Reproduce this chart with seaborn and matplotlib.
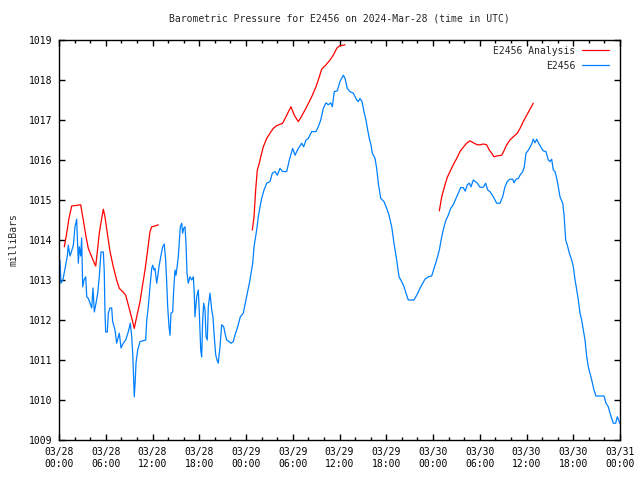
import pandas as pd
import matplotlib
matplotlib.use('Agg')
import matplotlib.pyplot as plt
import matplotlib.dates as mdates
import seaborn as sns

# values: hours after 2024-03-28 00:00 UTC, pressure in mb
obs_hours = [0.13, 0.25, 0.5, 1.07, 1.19, 1.41, 1.54, 1.84, 2.05, 2.27, 2.48, 2.61, 2.78, 2.91,
             3.04, 3.21, 3.43, 3.56, 3.76, 3.98, 4.2, 4.36, 4.53, 4.75, 4.97, 5.17, 5.39, 5.69,
             5.81, 5.9, 5.99, 6.2, 6.33, 6.55, 6.76, 6.89, 7.19, 7.4, 7.61, 7.74, 7.96, 8.25,
             8.56, 8.89, 9.15, 9.33, 9.46, 9.59, 9.66, 9.79, 9.88, 10.1, 10.4, 11.13, 11.26,
             11.46, 11.68, 11.9, 12.03, 12.19, 12.32, 12.54, 12.67, 12.83, 13.09, 13.31, 13.51,
             13.69, 13.82, 13.95, 14.12, 14.25, 14.37, 14.59, 14.72, 14.89, 15.02, 15.14, 15.31,
             15.44, 15.57, 15.75, 15.87, 16.0, 16.17, 16.3, 16.43, 16.59, 16.81, 17.03, 17.24,
             17.36, 17.45, 17.67, 17.88, 18.01, 18.19, 18.31, 18.44, 18.57, 18.74, 18.87, 19.03,
             19.16, 19.38, 19.6, 19.76, 19.93, 20.11, 20.28, 20.44, 20.66, 20.88, 21.14, 21.3,
             21.52, 21.82, 22.07, 22.37, 22.59, 22.93, 23.27, 23.65, 24.08, 24.51, 24.86, 25.03,
             25.37, 25.58, 25.8, 26.01, 26.31, 26.66, 27.08, 27.38, 27.72, 28.02, 28.36, 28.71,
             29.22, 29.56, 29.99, 30.29, 30.71, 31.15, 31.4, 31.7, 32.0, 32.43, 32.98, 33.28,
             33.59, 33.92, 34.27, 34.56, 34.87, 35.08, 35.33, 35.72, 36.06, 36.49, 36.71, 37.0,
             37.35, 37.77, 38.21, 38.41, 38.63, 38.89, 39.14, 39.4, 39.62, 39.82, 40.04, 40.21,
             40.56, 40.77, 40.98, 41.29, 41.71, 42.06, 42.35, 42.7, 42.99, 43.34, 43.64, 43.98,
             44.28, 44.62, 44.83, 45.56, 45.91, 46.33, 46.68, 46.97, 47.4, 47.83, 48.13, 48.47,
             48.81, 49.12, 49.41, 49.67, 49.96, 50.27, 50.6, 50.95, 51.25, 51.55, 51.89, 52.14,
             52.4, 52.66, 52.88, 53.17, 53.43, 53.69, 54.03, 54.46, 54.76, 55.02, 55.31, 55.74,
             56.17, 56.6, 56.94, 57.24, 57.53, 57.88, 58.23, 58.4, 58.65, 58.95, 59.17, 59.51,
             59.72, 59.93, 60.19, 60.45, 60.7, 60.87, 61.09, 61.31, 61.56, 61.82, 62.15, 62.5,
             62.8, 63.02, 63.23, 63.44, 63.66, 63.88, 64.08, 64.3, 64.65, 64.82, 65.03, 65.24,
             65.5, 65.8, 66.01, 66.23, 66.45, 66.65, 66.87, 67.08, 67.29, 67.51, 67.73, 67.93,
             68.15, 68.37, 68.66, 68.92, 69.43, 69.95, 70.2, 70.5, 70.72, 70.94, 71.14, 71.45,
             71.65, 71.83, 71.96]
obs_mb = [1013.5, 1012.92, 1013.0, 1013.6, 1013.87, 1013.6, 1013.67, 1013.87, 1014.33, 1014.52,
          1013.42, 1013.83, 1013.6, 1014.05, 1012.83, 1013.0, 1013.08, 1012.58, 1012.54, 1012.42,
          1012.3, 1012.8, 1012.2, 1012.42, 1012.67, 1013.08, 1013.7, 1013.7, 1013.2, 1012.2,
          1011.7, 1011.7, 1012.17, 1012.3, 1012.3, 1011.96, 1011.75, 1011.42, 1011.58, 1011.67,
          1011.3, 1011.42, 1011.5, 1011.7, 1011.92, 1011.58, 1011.17, 1010.5, 1010.08, 1010.5,
          1010.92, 1011.25, 1011.46, 1011.5, 1012.0, 1012.33, 1012.83, 1013.29, 1013.37, 1013.25,
          1013.29, 1012.92, 1013.08, 1013.33, 1013.62, 1013.83, 1013.9, 1013.5, 1012.96, 1012.33,
          1011.83, 1011.62, 1012.17, 1012.2, 1012.75, 1013.25, 1013.12, 1013.3, 1013.58, 1013.96,
          1014.33, 1014.42, 1014.17, 1014.29, 1014.33, 1013.92, 1013.17, 1012.92, 1013.08, 1013.0,
          1013.08, 1012.67, 1012.08, 1012.58, 1012.75, 1012.17, 1011.25, 1011.08, 1012.0, 1012.42,
          1012.25, 1011.58, 1011.5, 1012.33, 1012.67, 1012.25, 1012.08, 1011.58, 1011.13, 1011.0,
          1010.92, 1011.33, 1011.88, 1011.83, 1011.67, 1011.5, 1011.46, 1011.42, 1011.46, 1011.62,
          1011.83, 1012.08, 1012.17, 1012.58, 1013.0, 1013.42, 1013.83, 1014.25, 1014.58, 1014.83,
          1015.04, 1015.25, 1015.42, 1015.46, 1015.67, 1015.71, 1015.62, 1015.79, 1015.71, 1015.71,
          1016.0, 1016.29, 1016.12, 1016.29, 1016.42, 1016.33, 1016.5, 1016.54, 1016.71, 1016.71,
          1016.83, 1017.0, 1017.29, 1017.43, 1017.38, 1017.43, 1017.33, 1017.71, 1017.73, 1017.96,
          1018.12, 1018.04, 1017.79, 1017.71, 1017.67, 1017.5, 1017.46, 1017.54, 1017.46, 1017.21,
          1017.0, 1016.75, 1016.54, 1016.38, 1016.17, 1016.04, 1015.79, 1015.42, 1015.04, 1014.96,
          1014.79, 1014.62, 1014.33, 1013.92, 1013.5, 1013.08, 1012.96, 1012.83, 1012.62, 1012.5,
          1012.5, 1012.62, 1012.79, 1012.92, 1013.02, 1013.08, 1013.1, 1013.29, 1013.5, 1013.75,
          1014.08, 1014.33, 1014.5, 1014.62, 1014.79, 1014.88, 1015.04, 1015.17, 1015.31, 1015.31,
          1015.22, 1015.38, 1015.42, 1015.33, 1015.5, 1015.46, 1015.42, 1015.32, 1015.32, 1015.42,
          1015.25, 1015.21, 1015.08, 1014.92, 1014.92, 1015.08, 1015.33, 1015.46, 1015.52, 1015.52,
          1015.43, 1015.52, 1015.54, 1015.62, 1015.71, 1015.83, 1016.17, 1016.23, 1016.32, 1016.42,
          1016.52, 1016.43, 1016.52, 1016.42, 1016.33, 1016.23, 1016.21, 1016.0, 1015.96, 1016.02,
          1015.75, 1015.71, 1015.54, 1015.33, 1015.08, 1014.92, 1014.62, 1014.0, 1013.87, 1013.67,
          1013.5, 1013.33, 1013.0, 1012.75, 1012.5, 1012.17, 1012.0, 1011.75, 1011.5, 1011.08,
          1010.83, 1010.67, 1010.5, 1010.25, 1010.1, 1010.1, 1010.1, 1009.92, 1009.83, 1009.67,
          1009.54, 1009.42, 1009.42, 1009.58, 1009.5, 1009.42]

# analysis runs (three separate pieces)
ana1_hours = [0.68, 0.99, 1.28, 1.63, 2.78, 3.12, 3.47, 3.76, 4.2, 4.53, 4.71, 4.92, 5.17, 5.48,
              5.69, 5.9, 6.2, 6.55, 6.97, 7.4, 7.74, 8.18, 8.56, 8.89, 9.24, 9.5, 9.66, 9.97,
              10.4, 10.69, 11.04, 11.38, 11.68, 11.9, 12.32, 12.74]
ana1_mb = [1013.83, 1014.17, 1014.54, 1014.85, 1014.88, 1014.5, 1014.08, 1013.79, 1013.58,
           1013.42, 1013.35, 1013.71, 1014.17, 1014.54, 1014.77, 1014.58, 1014.17, 1013.71,
           1013.33, 1013.0, 1012.79, 1012.71, 1012.62, 1012.38, 1012.12, 1011.92, 1011.79,
           1012.08, 1012.46, 1012.83, 1013.25, 1013.75, 1014.21, 1014.33, 1014.35, 1014.38]
ana2_hours = [24.81, 25.03, 25.24, 25.45, 25.71, 25.89, 26.22, 26.66, 27.08, 27.5, 27.94, 28.71,
              29.22, 29.77, 30.2, 30.71, 31.15, 31.79, 32.43, 32.98, 33.41, 33.71, 34.27, 34.78,
              35.2, 35.64, 35.97, 36.71]
ana2_mb = [1014.25, 1014.58, 1015.25, 1015.75, 1015.92, 1016.08, 1016.33, 1016.54, 1016.67,
           1016.79, 1016.86, 1016.92, 1017.12, 1017.33, 1017.12, 1016.96, 1017.1, 1017.33,
           1017.58, 1017.83, 1018.08, 1018.27, 1018.38, 1018.5, 1018.62, 1018.79, 1018.85, 1018.88]
ana3_hours = [48.81, 49.12, 49.54, 49.84, 50.18, 50.6, 51.04, 51.46, 51.89, 52.32, 52.75, 53.17,
              53.69, 54.03, 54.46, 54.89, 55.22, 55.53, 55.83, 56.17, 56.82, 57.11, 57.46, 57.88,
              58.31, 58.82, 59.17, 59.59, 60.02, 60.45, 60.87]
ana3_mb = [1014.73, 1015.08, 1015.38, 1015.57, 1015.71, 1015.88, 1016.04, 1016.21, 1016.32,
           1016.42, 1016.48, 1016.43, 1016.38, 1016.38, 1016.4, 1016.38, 1016.25, 1016.17,
           1016.08, 1016.1, 1016.12, 1016.23, 1016.38, 1016.5, 1016.58, 1016.67, 1016.79,
           1016.96, 1017.12, 1017.27, 1017.42]

start = pd.Timestamp('2024-03-28 00:00')

obs = pd.DataFrame({'time': start + pd.to_timedelta(obs_hours, unit='h'), 'mb': obs_mb})
pieces = []
for i, (h, p) in enumerate([(ana1_hours, ana1_mb), (ana2_hours, ana2_mb), (ana3_hours, ana3_mb)]):
    pieces.append(pd.DataFrame({'time': start + pd.to_timedelta(h, unit='h'), 'mb': p, 'seg': i}))
ana = pd.concat(pieces, ignore_index=True)

sns.set_style('ticks')
plt.rcParams['font.family'] = ['DejaVu Sans Mono']
plt.rcParams['font.size'] = 7

fig = plt.figure(figsize=(6.4, 4.8), dpi=100)
ax = fig.add_axes([59 / 640, 40 / 480, 561 / 640, 400 / 480])

sns.lineplot(data=ana, x='time', y='mb', units='seg', estimator=None, color='#ff0000',
             linewidth=0.9, label='E2456 Analysis', ax=ax)
sns.lineplot(data=obs, x='time', y='mb', estimator=None, color='#0080ff',
             linewidth=0.9, label='E2456', ax=ax)

ax.set_xlim(start, start + pd.Timedelta(hours=72))
ax.set_ylim(1009, 1019)
ax.set_yticks(range(1009, 1020))

ticks = pd.date_range(start, periods=13, freq='6h')
ax.set_xticks(ticks)
ax.set_xticklabels([t.strftime('%m/%d\n%H:%M') for t in ticks], linespacing=1.25)
ax.xaxis.set_minor_locator(mdates.HourLocator(byhour=range(0, 24, 2)))

ax.tick_params(which='both', direction='in', top=True, right=True, width=1, colors='black',
               labelsize=7)
ax.tick_params(which='major', length=4.5, pad=5)
ax.tick_params(which='minor', length=2.5)
for s in ax.spines.values():
    s.set_linewidth(1)
    s.set_color('black')

ax.set_title('Barometric Pressure for E2456 on 2024-Mar-28 (time in UTC)', fontsize=7, pad=13)
ax.set_xlabel('')
ax.set_ylabel('milliBars', fontsize=7)
ax.yaxis.set_label_coords(-0.072, 0.5)

# one legend entry per series (the units= call adds one line per piece)
handles, labels = ax.get_legend_handles_labels()
uniq = dict(zip(labels, handles))
ax.legend(uniq.values(), uniq.keys(), loc='upper right', bbox_to_anchor=(0.991, 1.0),
          frameon=False, markerfirst=False, fontsize=7, handlelength=2.8, handletextpad=0.7,
          labelspacing=0.5, borderaxespad=0.2)

fig.savefig('out.png', dpi=100)
